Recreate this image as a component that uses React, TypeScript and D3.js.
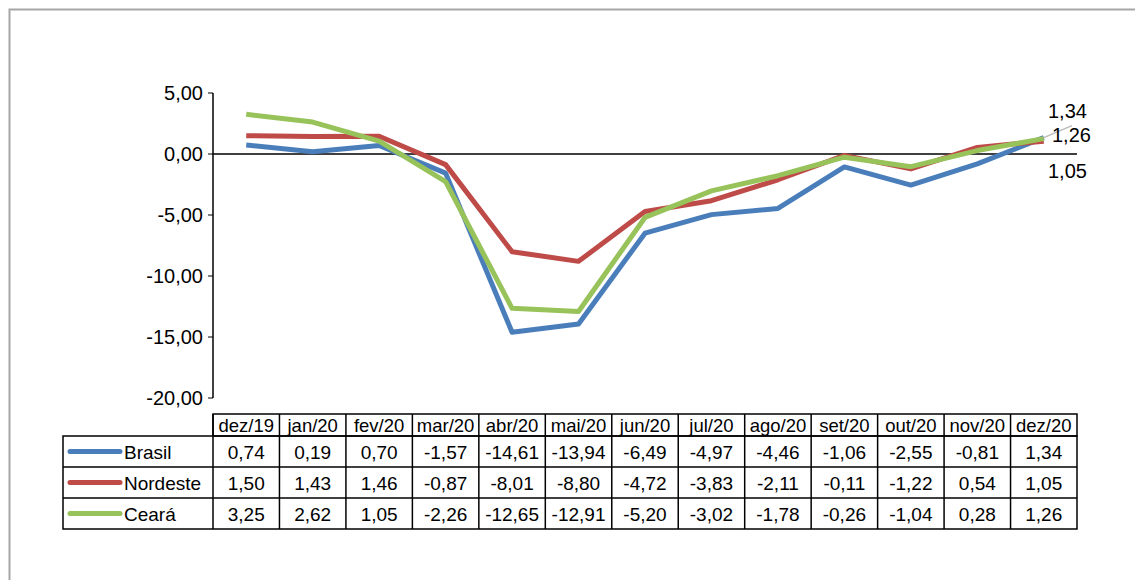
import * as d3 from "d3";
import React from "react";

const months = ["dez/19", "jan/20", "fev/20", "mar/20", "abr/20", "mai/20", "jun/20", "jul/20", "ago/20", "set/20", "out/20", "nov/20", "dez/20"];
const brasil = [0.74, 0.19, 0.7, -1.57, -14.61, -13.94, -6.49, -4.97, -4.46, -1.06, -2.55, -0.81, 1.34];
const nordeste = [1.5, 1.43, 1.46, -0.87, -8.01, -8.8, -4.72, -3.83, -2.11, -0.11, -1.22, 0.54, 1.05];
const ceara = [3.25, 2.62, 1.05, -2.26, -12.65, -12.91, -5.2, -3.02, -1.78, -0.26, -1.04, 0.28, 1.26];
const yTicks = [5, 0, -5, -10, -15, -20];

const series = [
  { name: "Brasil", values: brasil, color: "#4a7ebb" },
  { name: "Nordeste", values: nordeste, color: "#be4b48" },
  { name: "Ceará", values: ceara, color: "#98c35b" },
];

const fmt = (v: number) => v.toFixed(2).replace(".", ",");

export default function App() {
  const left = 213, right = 1077;
  const x = d3.scaleBand<string>().domain(months).range([left, right]);
  const y = d3.scaleLinear().domain([-20, 5]).range([398, 93]);
  const line = d3.line<number>().x((_, i) => x(months[i])! + x.bandwidth() / 2).y((v) => y(v));
  const font = "Liberation Sans, Arial, sans-serif";
  const headTop = 414, headH = 22, rowH = 31;
  const legLeft = 63;
  const last = months[months.length - 1];
  const lx = x(last)! + x.bandwidth() / 2;
  const endLabels = [
    { v: brasil[12], tx: 1048, ty: 118 },
    { v: ceara[12], tx: 1052, ty: 142 },
    { v: nordeste[12], tx: 1048, ty: 178 },
  ];
  return (
    <svg width={1135} height={580} style={{ position: "absolute", left: 0, top: 0 }} fontFamily={font}>
      <rect x={9.5} y={9.5} width={1135} height={580} fill="white" stroke="#a6a6a6" strokeWidth={2} />
      {yTicks.map((t) => (
        <g key={t}>
          <line x1={left - 5} x2={left} y1={y(t)} y2={y(t)} stroke="black" />
          <text x={left - 10} y={y(t) + 7} textAnchor="end" fontSize={20}>{fmt(t)}</text>
        </g>
      ))}
      <line x1={left} x2={left} y1={y(5)} y2={y(-20)} stroke="black" strokeWidth={1.5} />
      <line x1={left} x2={right} y1={y(0)} y2={y(0)} stroke="black" strokeWidth={1.5} />
      {series.map((s) => (
        <path key={s.name} d={line(s.values)!} fill="none" stroke={s.color} strokeWidth={5} strokeLinejoin="round" />
      ))}
      <line x1={lx} x2={1072} y1={y(brasil[12])} y2={y(brasil[12]) - 12} stroke="#bbb" strokeWidth={1.5} />
      {endLabels.map((l, i) => (
        <text key={i} x={l.tx} y={l.ty} fontSize={20}>{fmt(l.v)}</text>
      ))}
      {/* data table */}
      <g stroke="black" strokeWidth={1.5} fill="none">
        <rect x={left} y={headTop} width={right - left} height={headH} />
        <rect x={legLeft} y={headTop + headH} width={right - legLeft} height={rowH * 3} />
        {months.map((m) => (
          <line key={m} x1={x(m)} x2={x(m)} y1={headTop} y2={headTop + headH + rowH * 3} />
        ))}
        {[1, 2].map((r) => (
          <line key={r} x1={legLeft} x2={right} y1={headTop + headH + rowH * r} y2={headTop + headH + rowH * r} />
        ))}
      </g>
      {months.map((m) => (
        <text key={m} x={x(m)! + x.bandwidth() / 2} y={headTop + 18} textAnchor="middle" fontSize={18.5}>{m}</text>
      ))}
      {series.map((s, r) => {
        const cy = headTop + headH + rowH * r + rowH / 2;
        return (
          <g key={s.name}>
            <line x1={70} x2={120} y1={cy} y2={cy} stroke={s.color} strokeWidth={5} strokeLinecap="round" />
            <text x={124} y={cy + 7} fontSize={19}>{s.name}</text>
            {s.values.map((v, i) => (
              <text key={i} x={x(months[i])! + x.bandwidth() / 2} y={cy + 7} textAnchor="middle" fontSize={19}>{fmt(v)}</text>
            ))}
          </g>
        );
      })}
    </svg>
  );
}
